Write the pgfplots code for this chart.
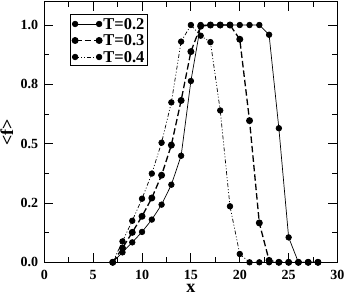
\documentclass[border=0pt]{standalone}
\usepackage{fontspec}
\setmainfont{Liberation Serif}
\usepackage{pgfplots}
\pgfplotsset{compat=1.18}
\newcommand{\lf}{\bfseries\fontsize{16.5}{18}\selectfont}
\begin{document}
\begin{tikzpicture}
\begin{axis}[
  scale only axis,
  width=293.2pt, height=260.3pt,
  xmin=0, xmax=30, ymin=0, ymax=1.097,
  xtick={0,5,10,15,20,25,30},
  ytick={0,0.25,0.5,0.75,1.0},
  yticklabels={0.0,0.2,0.5,0.8,1.0},
  minor x tick num=1, minor y tick num=1,
  tick align=inside,
  major tick length=9pt, minor tick length=5pt,
  every tick/.style={black, line width=0.8pt},
  axis line style={line width=1pt},
  /pgf/number format/assume math mode=true,
  ticklabel style={font=\bfseries\fontsize{14}{16}\selectfont, inner sep=0pt},
  xticklabel style={anchor=base, yshift=-16.7pt},
  yticklabel style={anchor=east, xshift=-6pt},
  xlabel={x}, ylabel={<f>},
  label style={font=\bfseries\fontsize{18}{20}\selectfont, inner sep=0pt},
  xlabel style={at={(axis description cs:0.5,0)}, anchor=base, yshift=-30pt},
  ylabel style={at={(axis description cs:0,0.5)}, anchor=center, yshift=37.5pt},
  legend style={at={(axis description cs:0.087,0.952)}, anchor=north west,
    draw=black, line width=1pt, font=\lf,
    inner xsep=2pt, inner ysep=2pt, row sep=2.5pt, cells={anchor=west},
    nodes={font=\lf, inner sep=1.5pt, text height=11pt, text depth=0pt}},
  legend image code/.code={\draw[#1, mark repeat=1] plot coordinates {(0pt,0pt) (24pt,0pt)};},
  every axis plot/.append style={mark=*, mark size=2.8pt, mark options={solid}},
]
\addplot[black, line width=0.7pt] coordinates {
(7,0) (8,0.042) (9,0.084) (10,0.128) (11,0.18) (12,0.243) (13,0.327) (14,0.449)
(15,0.764) (16,1.0) (17,1.0) (18,1.0) (19,1.0) (20,1.0) (21,1.0) (22,1.0)
(23,0.959) (24,0.565) (25,0.105) (26,0) (27,0) (28,0)};
\addlegendentry{\lf T=0.2}
\addplot[black, line width=1.3pt, dash pattern=on 6.5pt off 3pt] coordinates {
(7,0) (8,0.06) (9,0.126) (10,0.194) (11,0.271) (12,0.367) (13,0.494) (14,0.682)
(15,0.888) (16,0.995) (17,1.0) (18,1.0) (19,1.0) (20,0.94) (21,0.597) (22,0.166)
(23,0.008) (24,0) (25,0) (26,0) (27,0) (28,0)};
\addlegendentry{\lf T=0.3}
\addplot[black, line width=0.7pt, dash pattern=on 4pt off 2pt on 1pt off 2pt on 1pt off 2pt] coordinates {
(7,0) (8,0.088) (9,0.175) (10,0.268) (11,0.374) (12,0.504) (13,0.674) (14,0.93)
(15,1.0) (16,0.955) (17,0.928) (18,0.64) (19,0.236) (20,0.035) (21,0) (22,0)
(23,0) (24,0) (25,0) (26,0) (27,0) (28,0)};
\addlegendentry{\lf T=0.4}
\end{axis}
\pgfresetboundingbox
\path[use as bounding box] (-44.3pt,-32.7pt) rectangle (301.7pt,262.3pt);
\end{tikzpicture}
\end{document}
